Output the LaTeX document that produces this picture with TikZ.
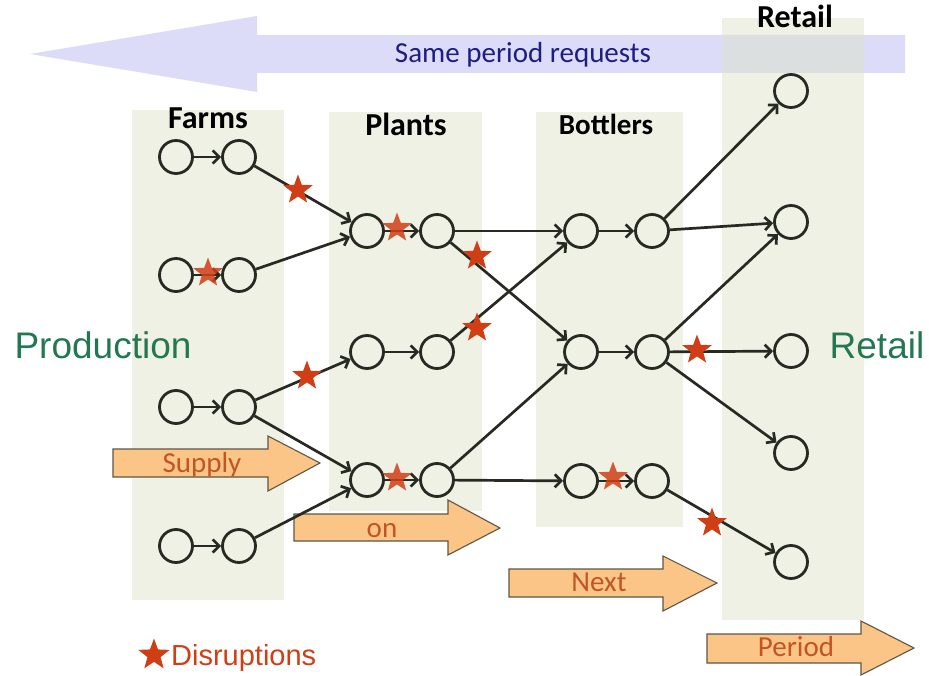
\documentclass[tikz,border=0pt]{standalone}
\usepackage{fontspec}
\setmainfont{Carlito}
\newfontfamily\arialfont{Liberation Sans}
\usetikzlibrary{shapes.geometric,arrows.meta}
\definecolor{colfill}{RGB}{221,227,201}
\definecolor{reqfill}{RGB}{220,220,248}
\definecolor{reqtext}{RGB}{30,30,130}
\definecolor{flowfill}{RGB}{250,197,135}
\definecolor{flowline}{RGB}{95,85,70}
\definecolor{flowtext}{RGB}{195,85,35}
\definecolor{stagegreen}{RGB}{35,120,82}
\definecolor{disrupt}{RGB}{208,62,22}
\definecolor{ink}{RGB}{38,42,34}
\begin{document}
\begin{tikzpicture}[x=1pt,y=-1pt,
  site/.style={circle,draw=ink,line width=2.8pt,minimum size=33pt,inner sep=0pt},
  link/.style={draw=ink,line width=2.7pt,-{Straight Barb[length=6.5pt,width=13pt]}},
  hit/.style={star,star points=5,star point ratio=2.4,fill=disrupt,minimum size=31pt,inner sep=0pt},
  softhit/.style={hit,fill opacity=0.85},
  band/.style={fill=colfill,fill opacity=0.5},
  flow/.style={fill=flowfill,draw=flowline,line width=1.1pt},
  flowlabel/.style={text=flowtext,anchor=base,font=\fontsize{29}{32}\selectfont},
  stage/.style={anchor=base,font=\bfseries\fontsize{32}{36}\selectfont},
  side/.style={text=stagegreen,anchor=base,font=\arialfont\fontsize{37}{40}\selectfont}]

\useasboundingbox (0,0) rectangle (929,676);

% backward request arrow
\fill[reqfill] (30,54) -- (257,16) -- (257,35) -- (905,35) -- (905,73)
  -- (257,73) -- (257,92) -- cycle;
\node[text=reqtext,anchor=base,font=\fontsize{29}{32}\selectfont] (req) at (523,63) {Same period requests};

% tier bands
\fill[band] (132,110) rectangle (284,600);
\fill[band] (329,112) rectangle (482,511);
\fill[band] (536,112) rectangle (683,527);
\fill[band] (722,18) rectangle (864,620);

% forward flow arrows
\draw[flow] (113,449) -- (268,449) -- (268,436) -- (320,463) -- (268,491) -- (268,477) -- (113,477) -- cycle;
\draw[flow] (294,514) -- (448,514) -- (448,500) -- (500,528) -- (448,555) -- (448,541) -- (294,541) -- cycle;
\draw[flow] (509,569) -- (663,569) -- (663,556) -- (717,583) -- (663,611) -- (663,597) -- (509,597) -- cycle;
\draw[flow] (707,634) -- (861,634) -- (861,621) -- (914,648) -- (861,675) -- (861,663) -- (707,663) -- cycle;
\node[flowlabel] (supply) at (202,472) {Supply};
\node[flowlabel] (on) at (382,537) {on};
\node[flowlabel] (next) at (599,591) {Next};
\node[flowlabel] (period) at (796,656) {Period};

% tier headings
\node[stage] (farms) at (208,129) {Farms};
\node[stage] (plants) at (406,136) {Plants};
\node[stage,font=\bfseries\fontsize{29}{32}\selectfont] (bottlers) at (606,135) {Bottlers};
\node[stage,font=\bfseries\fontsize{32}{36}\selectfont] (retailhead) at (795,28) {Retail};
\node[side] (production) at (103,358) {Production};
\node[side] (retailside) at (877,358) {Retail};

% farms
\node[site] (F1a) at (176,157) {};
\node[site] (F1b) at (239,157) {};
\node[site] (F2a) at (176,275) {};
\node[site] (F2b) at (239,275) {};
\node[site] (F3a) at (176,407) {};
\node[site] (F3b) at (239,407) {};
\node[site] (F4a) at (176,546) {};
\node[site] (F4b) at (239,546) {};
% plants
\node[site] (P1a) at (367,231) {};
\node[site] (P1b) at (437,231) {};
\node[site] (P2a) at (367,352) {};
\node[site] (P2b) at (437,352) {};
\node[site] (P3a) at (367,480) {};
\node[site] (P3b) at (437,480) {};
% bottlers
\node[site] (B1a) at (581,231) {};
\node[site] (B1b) at (652,231) {};
\node[site] (B2a) at (581,352) {};
\node[site] (B2b) at (652,352) {};
\node[site] (B3a) at (581,481) {};
\node[site] (B3b) at (652,481) {};
% retail
\node[site] (R1) at (791,91) {};
\node[site] (R2) at (791,222) {};
\node[site] (R3) at (791,351) {};
\node[site] (R4) at (791,453) {};
\node[site] (R5) at (791,562) {};

% links inside each site
\foreach \a/\b in {F1a/F1b,F2a/F2b,F3a/F3b,F4a/F4b,P1a/P1b,P2a/P2b,P3a/P3b,B1a/B1b,B2a/B2b,B3a/B3b}
  \draw[link] (\a) -- (\b);
% links between tiers
\foreach \a/\b in {F1b/P1a,F2b/P1a,F3b/P2a,F3b/P3a,F4b/P3a,
                   P1b/B1a,P1b/B2a,P2b/B1a,P3b/B2a,P3b/B3a,
                   B1b/R1,B1b/R2,B2b/R2,B2b/R3,B2b/R4,B3b/R5}
  \draw[link] (\a) -- (\b);

% disruptions
\node[hit] (d1) at (298,190) {};
\node[softhit] (d2) at (208,273) {};
\node[softhit] (d3) at (397,228) {};
\node[hit] (d4) at (477,256) {};
\node[hit] (d5) at (477,328) {};
\node[hit] (d6) at (307,376) {};
\node[softhit] (d7) at (397,478) {};
\node[softhit] (d8) at (613,477) {};
\node[hit] (d9) at (697,350) {};
\node[hit] (d10) at (712,523) {};

% legend
\node[hit,minimum size=33pt] (legstar) at (154,655) {};
\node[anchor=base west,text=disrupt,font=\arialfont\fontsize{29}{32}\selectfont,inner sep=0pt] (legtext) at (171,665) {Disruptions};
\end{tikzpicture}
\end{document}
